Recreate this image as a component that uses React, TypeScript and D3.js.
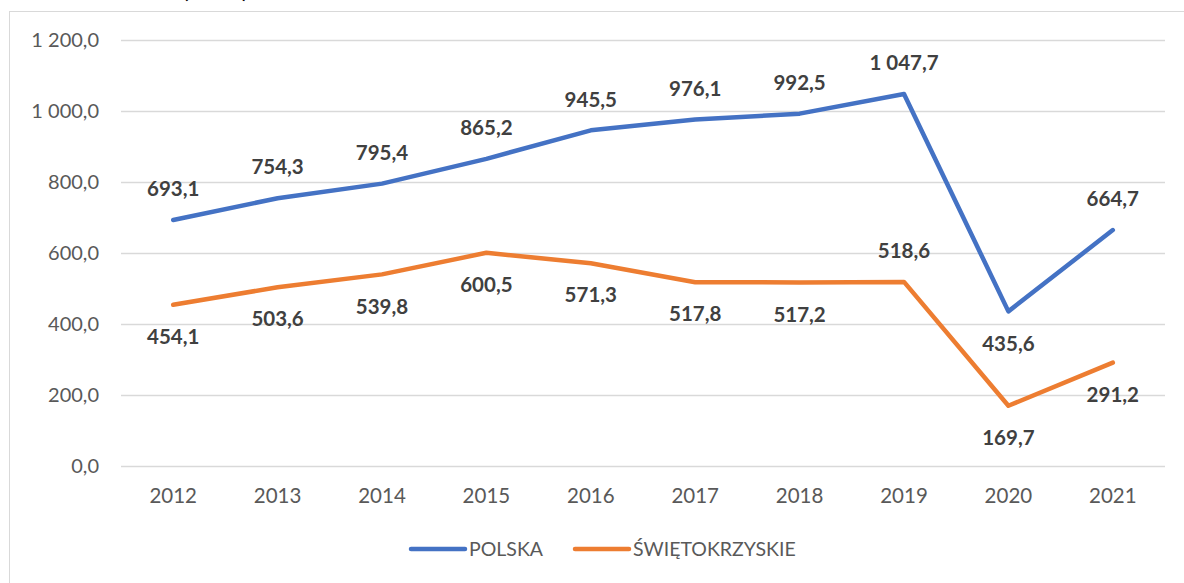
import * as d3 from "d3"

const years = ["2012", "2013", "2014", "2015", "2016", "2017", "2018", "2019", "2020", "2021"]
const polska = [693.1, 754.3, 795.4, 865.2, 945.5, 976.1, 992.5, 1047.7, 435.6, 664.7]
const swietokrzyskie = [454.1, 503.6, 539.8, 600.5, 571.3, 517.8, 517.2, 518.6, 169.7, 291.2]
// label placement: true = above the point
const polskaAbove = [true, true, true, true, true, true, true, true, false, true]
const swietAbove = [false, false, false, false, false, false, false, true, false, false]
const yTicks = [0, 200, 400, 600, 800, 1000, 1200]

const seriesList = [
  { name: "POLSKA", values: polska, above: polskaAbove, color: "#4472C4" },
  { name: "ŚWIĘTOKRZYSKIE", values: swietokrzyskie, above: swietAbove, color: "#ED7D31" },
]

const W = 1184
const H = 583
const font = "Lato, 'Open Sans', sans-serif"

const pl = d3.formatLocale({ decimal: ",", thousands: " ", grouping: [3], currency: ["", " zł"] })
const fmt = pl.format(",.1f")

export default function App() {
  const x = d3.scaleBand().domain(years).range([121, 1165])
  const y = d3.scaleLinear().domain([0, 1200]).range([466, 40])
  const cx = (d: string) => (x(d) || 0) + x.bandwidth() / 2

  const line = d3
    .line<number>()
    .x((_, i) => cx(years[i]))
    .y((d) => y(d))

  return (
    <div style={{ position: "fixed", left: 0, top: 0, width: W, height: H, background: "#fff" }}>
      <svg width={W} height={H} style={{ display: "block", fontFamily: font }}>
        <rect x={0} y={0} width={W} height={H} fill="#fff" />
        {/* title, mostly outside the view */}
        <text x={183} y={-2} fontSize={20} fontWeight="bold" fill="#000">
          (mln zł)
        </text>
        <rect x={9.5} y={11.5} width={W + 20} height={H + 20} fill="none" stroke="#d9d9d9" />

        {/* grid + y ticks */}
        {yTicks.map((t) => (
          <g key={t}>
            <line x1={121} x2={1165} y1={Math.round(y(t)) + 0.5} y2={Math.round(y(t)) + 0.5} stroke="#d9d9d9" strokeWidth={1.3} />
            <text x={99} y={y(t)} dy="0.35em" textAnchor="end" fontSize={20} fill="#595959">
              {fmt(t)}
            </text>
          </g>
        ))}

        {/* x labels */}
        {years.map((yr) => (
          <text key={yr} x={cx(yr)} y={496} dy="0.35em" textAnchor="middle" fontSize={20.5} fill="#595959">
            {yr}
          </text>
        ))}

        {/* lines */}
        {seriesList.map((s) => (
          <path
            key={s.name}
            d={line(s.values) || ""}
            fill="none"
            stroke={s.color}
            strokeWidth={4.5}
            strokeLinejoin="round"
            strokeLinecap="round"
          />
        ))}

        {/* data labels */}
        {seriesList.map((s) =>
          s.values.map((v, i) => (
            <text
              key={s.name + i}
              x={cx(years[i])}
              y={y(v) + (s.above[i] ? -31 : 32)}
              dy="0.35em"
              textAnchor="middle"
              fontSize={20.5}
              fontWeight="bold"
              fill="#404040"
            >
              {fmt(v)}
            </text>
          ))
        )}

        {/* legend */}
        {seriesList.map((s, i) => {
          const lx = i === 0 ? 411 : 575
          return (
            <g key={s.name}>
              <line x1={lx} x2={lx + 54} y1={549} y2={549} stroke={s.color} strokeWidth={4.5} strokeLinecap="round" />
              <text x={lx + 58} y={549} dy="0.35em" fontSize={19.5} fill="#595959">
                {s.name}
              </text>
            </g>
          )
        })}
      </svg>
    </div>
  )
}
